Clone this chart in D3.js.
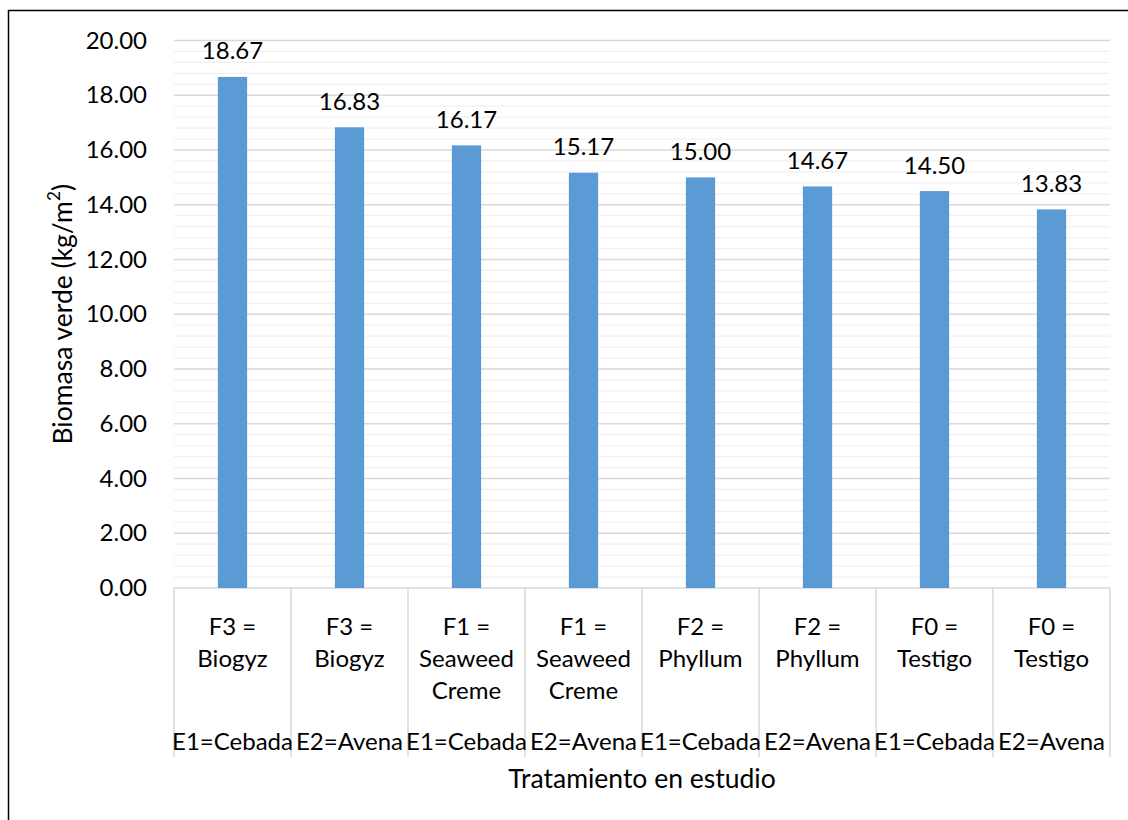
<!DOCTYPE html>
<html>
<head>
<meta charset="utf-8">
<script src="https://cdn.jsdelivr.net/npm/d3@7"></script>
<style>
  html, body { margin: 0; padding: 0; background: #fff; }
  svg { display: block; }
  text { font-family: Lato, "Open Sans", sans-serif; fill: #000; }
</style>
</head>
<body>
<svg id="chart" width="1128" height="820"></svg>
<script>
// Tratamientos (nivel 1), especie (nivel 2) y biomasa verde promedio
const treatments = ["F3 = Biogyz", "F3 = Biogyz", "F1 = Seaweed Creme", "F1 = Seaweed Creme",
                    "F2 = Phyllum", "F2 = Phyllum", "F0 = Testigo", "F0 = Testigo"];
const species = ["E1=Cebada", "E2=Avena", "E1=Cebada", "E2=Avena",
                 "E1=Cebada", "E2=Avena", "E1=Cebada", "E2=Avena"];
const biomass = [18.67, 16.83, 16.17, 15.17, 15.00, 14.67, 14.50, 13.83];
const yTicks = [0, 2, 4, 6, 8, 10, 12, 14, 16, 18, 20];

const svg = d3.select("#chart");
const fs = 24;        // etiquetas de ejes y de datos
const fsTitle = 26.5; // títulos de ejes
const plot = { left: 174, right: 1110, top: 40.5, bottom: 588 };
const ids = d3.range(treatments.length);

const x = d3.scaleBand().domain(ids).range([plot.left, plot.right]).paddingInner(0).paddingOuter(0);
const y = d3.scaleLinear().domain([0, 20]).range([plot.bottom, plot.top]);

// Borde exterior del gráfico
svg.append("rect")
  .attr("x", 8.5).attr("y", 10.5).attr("width", 1140).attr("height", 900)
  .attr("fill", "none").attr("stroke", "#000").attr("stroke-width", 1.5);

// Líneas de división secundarias (cada 0.4) y principales (cada 2)
const minor = d3.range(0, 20.001, 0.4).filter(v => Math.abs(v / 2 - Math.round(v / 2)) > 1e-6);
svg.append("g").selectAll("line").data(minor).join("line")
  .attr("x1", plot.left).attr("x2", plot.right)
  .attr("y1", d => y(d)).attr("y2", d => y(d))
  .attr("stroke", "#f0f0f0").attr("stroke-width", 1.3);

svg.append("g").selectAll("line").data(yTicks).join("line")
  .attr("x1", plot.left).attr("x2", plot.right)
  .attr("y1", d => y(d)).attr("y2", d => y(d))
  .attr("stroke", "#d9d9d9").attr("stroke-width", 1.3);

// Eje Y: etiquetas
const yAxis = d3.axisLeft(y).tickValues(yTicks).tickFormat(d3.format(".2f")).tickSize(0).tickPadding(0);
const gy = svg.append("g").attr("transform", `translate(${plot.left - 27},0)`).call(yAxis);
gy.select(".domain").remove();
gy.selectAll("text").attr("font-size", fs).attr("font-family", "Lato, sans-serif").attr("fill", "#000");

// Barras
const barW = x.bandwidth() * 0.25;
svg.append("g").selectAll("rect").data(ids).join("rect")
  .attr("x", i => x(i) + (x.bandwidth() - barW) / 2)
  .attr("y", i => y(biomass[i]))
  .attr("width", barW)
  .attr("height", i => y(0) - y(biomass[i]))
  .attr("fill", "#5b9bd5");

// Etiquetas de valor
svg.append("g").selectAll("text").data(ids).join("text")
  .attr("x", i => x(i) + x.bandwidth() / 2)
  .attr("y", i => y(biomass[i]) - 27)
  .attr("text-anchor", "middle").attr("dominant-baseline", "central")
  .attr("font-size", fs)
  .text(i => biomass[i].toFixed(2));

// Eje de categorías de dos niveles
const catG = svg.append("g");
const sep = d3.range(treatments.length + 1);
catG.selectAll("line").data(sep).join("line")
  .attr("x1", i => plot.left + i * x.bandwidth())
  .attr("x2", i => plot.left + i * x.bandwidth())
  .attr("y1", plot.bottom).attr("y2", 757)
  .attr("stroke", "#d9d9d9").attr("stroke-width", 1.5);

function wrapWords(textSel, label, maxW) {
  const words = label.split(" ");
  const lines = [];
  let cur = "";
  words.forEach(w => {
    const test = cur ? cur + " " + w : w;
    textSel.text(test);
    if (cur && textSel.node().getComputedTextLength() > maxW) {
      lines.push(cur);
      cur = w;
    } else {
      cur = test;
    }
  });
  if (cur) lines.push(cur);
  return lines;
}

ids.forEach(i => {
  const t = catG.append("text")
    .attr("x", x(i) + x.bandwidth() / 2)
    .attr("text-anchor", "middle").attr("dominant-baseline", "central")
    .attr("font-size", fs);
  const lines = wrapWords(t, treatments[i], 106);
  t.text(null);
  lines.forEach((ln, k) => {
    t.append("tspan").attr("x", x(i) + x.bandwidth() / 2).attr("y", 625 + k * 32).text(ln);
  });
  catG.append("text")
    .attr("x", x(i) + x.bandwidth() / 2).attr("y", 740)
    .attr("text-anchor", "middle").attr("dominant-baseline", "central")
    .attr("font-size", fs)
    .text(species[i]);
});

// Títulos de los ejes
svg.append("text")
  .attr("x", (plot.left + plot.right) / 2).attr("y", 778)
  .attr("text-anchor", "middle").attr("dominant-baseline", "central")
  .attr("font-size", fsTitle)
  .text("Tratamiento en estudio");

const yt = svg.append("text")
  .attr("transform", `translate(62,${(plot.top + plot.bottom) / 2}) rotate(-90)`)
  .attr("text-anchor", "middle").attr("dominant-baseline", "central")
  .attr("font-size", fsTitle);
yt.append("tspan").text("Biomasa verde (kg/m");
yt.append("tspan").attr("font-size", fsTitle * 0.65).attr("dy", -9).text("2");
yt.append("tspan").attr("dy", 9).text(")");
</script>
</body>
</html>
